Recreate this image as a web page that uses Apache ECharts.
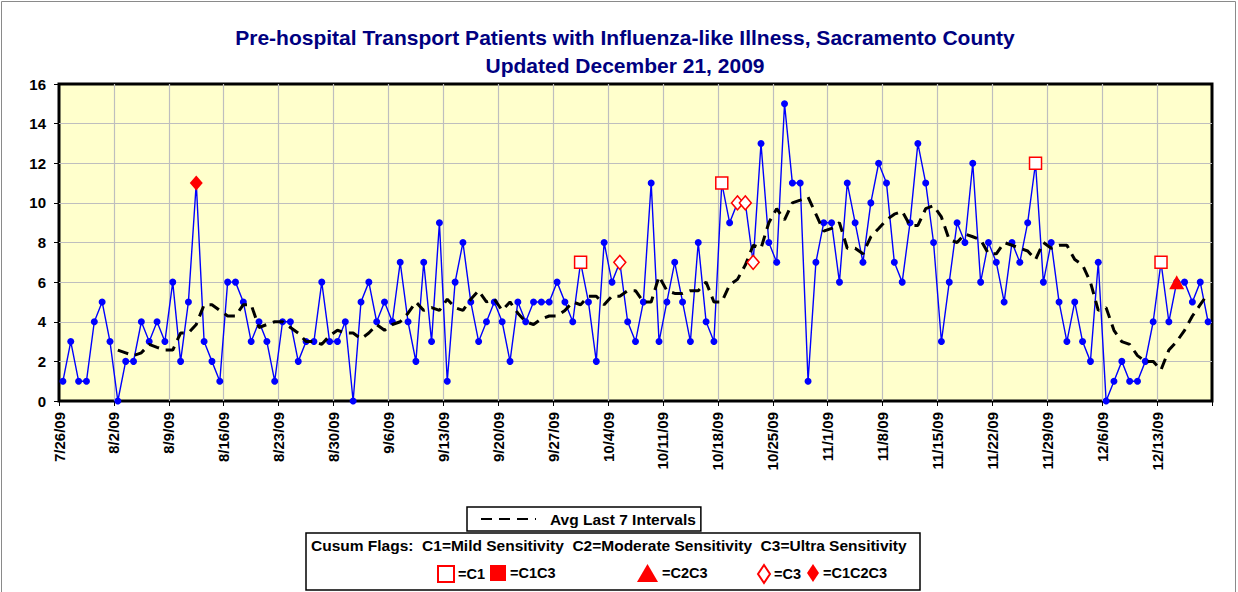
<!DOCTYPE html>
<html><head><meta charset="utf-8">
<script src="https://cdn.jsdelivr.net/npm/echarts@6/dist/echarts.min.js"></script>
<style>html,body{margin:0;padding:0;background:#fff}#c{width:1238px;height:592px}</style>
</head><body><div id="c"></div>
<script>
// Weekly tick labels (every 7 days starting 7/26/09)
const weekLabels = ['7/26/09','8/2/09','8/9/09','8/16/09','8/23/09','8/30/09','9/6/09','9/13/09','9/20/09','9/27/09','10/4/09','10/11/09','10/18/09','10/25/09','11/1/09','11/8/09','11/15/09','11/22/09','11/29/09','12/6/09','12/13/09'];
// Daily patient counts, 7/26/09 .. 12/19/09 (day index 0..146)
const counts = [1,3,1,1,4,5,3,0,2,2,4,3,4,3,6,2,5,11,3,2,1,6,6,5,3,
  4,3,1,4,4,2,3,3,6,3,3,4,0,5,6,4,5,4,7,4,2,7,3,9,1,
  6,8,5,3,4,5,4,2,5,4,5,5,5,6,5,4,7,5,2,8,6,7,4,3,5,
  11,3,5,7,5,3,8,4,3,11,9,10,10,7,13,8,7,15,11,11,1,7,9,9,6,
  11,9,7,10,12,11,7,6,9,13,11,8,3,6,9,8,12,6,8,7,5,8,7,9,12,
  6,8,5,3,5,3,2,7,0,1,2,1,1,2,4,7,4,6,6,5,6,4];
// Avg Last 7 Intervals
const avg7 = [null,null,null,null,null,null,null,
  2.57,2.43,2.29,2.43,2.86,2.71,2.57,2.57,3.43,3.43,3.86,4.86,4.86,4.57,4.29,4.29,4.86,4.86,
  3.71,3.86,4.0,4.0,3.71,3.43,3.0,3.0,2.86,3.29,3.57,3.43,3.43,3.14,3.43,3.86,3.57,3.86,4.0,4.43,5.0,4.57,4.71,4.57,5.14,
  4.71,4.57,5.14,5.57,5.0,5.14,4.57,5.0,4.43,4.0,3.86,4.14,4.29,4.29,4.57,5.0,4.86,5.29,5.29,4.86,5.29,5.29,5.57,5.57,5.0,
  5.0,6.29,5.57,5.43,5.43,5.57,5.57,6.0,5.0,5.0,5.86,6.14,6.86,7.86,7.71,9.0,9.71,9.14,10.0,10.14,10.29,9.43,8.57,8.71,9.0,
  7.71,7.71,7.43,8.29,8.71,9.14,9.43,9.57,8.86,8.86,9.71,9.86,9.29,8.14,8.0,8.43,8.29,8.14,7.43,7.43,8.0,7.86,7.71,7.57,7.14,
  8.0,7.71,7.86,7.86,7.14,6.86,6.0,4.57,4.71,3.57,3.0,2.86,2.29,2.0,2.0,1.57,2.57,3.0,3.57,4.29,4.86,5.43];
// Cusum flags (day index)
const flagC1 = [66,84,124,140];
const flagC1C3 = [];
const flagC2C3 = [142];
const flagC3 = [71,86,87,88];
const flagC1C2C3 = [17];

const FONT = "'Liberation Sans', Arial, sans-serif";
const pt = (i) => [i + 0.5, counts[i]];
const chart = echarts.init(document.getElementById('c'), null, {renderer: 'svg'});

const flagSeries = (name, days, symbol, size, itemStyle) => ({
  name, type: 'scatter', data: days.map(pt), symbol, symbolSize: size,
  itemStyle: Object.assign({opacity: 1}, itemStyle), z: 10, silent: true
});
const legendItem = (name, left, top, w, h) => ({
  data: [name], left, top, itemWidth: w, itemHeight: h, padding: 0,
  selectedMode: false, formatter: '={name}', z: 20,
  textStyle: {fontFamily: FONT, fontWeight: 'bold', fontSize: 14.5, color: '#000', padding: [0,0,0,-1]}
});

chart.setOption({
  animation: false,
  title: {
    text: 'Pre-hospital Transport Patients with Influenza-like Illness, Sacramento County\nUpdated December 21, 2009',
    left: 625, top: 23, padding: 0, textAlign: 'center',
    textStyle: {fontFamily: FONT, fontSize: 21, fontWeight: 'bold', color: '#000080', lineHeight: 28}
  },
  grid: {left: 59, top: 84, width: 1153, height: 317, show: true, backgroundColor: '#FFFFCC',
    borderColor: '#000', borderWidth: 3},
  xAxis: {
    type: 'value', min: 0, max: 147, interval: 7,
    axisLine: {show: false},
    axisTick: {show: true, length: 5, lineStyle: {color: '#000', width: 1}},
    splitLine: {show: true, showMinLine: false, showMaxLine: false, lineStyle: {color: '#BEBEBE', width: 1.2}},
    axisLabel: {rotate: 90, margin: 11, showMinLabel: true, showMaxLabel: true,
      fontFamily: FONT, fontWeight: 'bold', fontSize: 15, color: '#000',
      formatter: (v) => weekLabels[Math.round(v / 7)] || ''}
  },
  yAxis: {
    type: 'value', min: 0, max: 16, interval: 2,
    axisLine: {show: false},
    axisTick: {show: true, length: 5, lineStyle: {color: '#000', width: 1}},
    splitLine: {show: true, showMinLine: false, showMaxLine: false, lineStyle: {color: '#BEBEBE', width: 1.2}},
    axisLabel: {margin: 13, fontFamily: FONT, fontWeight: 'bold', fontSize: 15, color: '#000'}
  },
  legend: [
    {data: ['Avg Last 7 Intervals'], left: 467, top: 507, itemWidth: 55, itemHeight: 12,
      padding: [4, 5, 4, 13], borderColor: '#000', borderWidth: 1.5, backgroundColor: '#fff',
      selectedMode: false, z: 20, itemStyle: {opacity: 0},
      textStyle: {fontFamily: FONT, fontWeight: 'bold', fontSize: 15.5, color: '#000', padding: [0,0,0,9]}},
    legendItem('C1', 437, 565, 16, 16),
    legendItem('C1C3', 490, 565, 16, 16),
    legendItem('C2C3', 637, 564, 21, 18),
    legendItem('C3', 757, 564, 12, 18),
    legendItem('C1C2C3', 807, 564, 12, 18)
  ],
  graphic: [
    {type: 'rect', shape: {x: 1.5, y: 1.5, width: 1234, height: 640}, style: {fill: 'none', stroke: '#8a8a8a', lineWidth: 1}, z: 0, silent: true},
    {type: 'rect', shape: {x: 306, y: 533, width: 614, height: 57}, style: {fill: '#fff', stroke: '#000', lineWidth: 1.5}, z: 1, silent: true},
    {type: 'text', x: 311, y: 545, z: 2, silent: true, style: {
      text: 'Cusum Flags:  C1=Mild Sensitivity  C2=Moderate Sensitivity  C3=Ultra Sensitivity',
      font: 'bold 15.5px ' + FONT, fill: '#000', verticalAlign: 'middle'}}
  ],
  series: [
    {name: 'Patients', type: 'line', data: counts.map((v, i) => pt(i)), symbol: 'circle', symbolSize: 7,
      itemStyle: {color: '#0000FF'}, lineStyle: {color: '#0000FF', width: 1.4}, z: 3, silent: true},
    {name: 'Avg Last 7 Intervals', type: 'line', data: avg7.map((v, i) => [i + 0.5, v]), symbol: 'none',
      connectNulls: false, lineStyle: {color: '#000', width: 3, type: [11, 7], cap: 'butt'},
      itemStyle: {color: '#000'}, z: 4, silent: true},
    flagSeries('C1', flagC1, 'rect', 12, {color: '#fff', borderColor: '#FF0000', borderWidth: 1.5}),
    flagSeries('C1C3', flagC1C3, 'rect', 12, {color: '#FF0000'}),
    flagSeries('C2C3', flagC2C3, 'triangle', [15, 14], {color: '#FF0000'}),
    flagSeries('C3', flagC3, 'diamond', [12, 14], {color: '#fff', borderColor: '#FF0000', borderWidth: 1.5}),
    flagSeries('C1C2C3', flagC1C2C3, 'diamond', [13, 15], {color: '#FF0000'})
  ]
});
</script></body></html>
